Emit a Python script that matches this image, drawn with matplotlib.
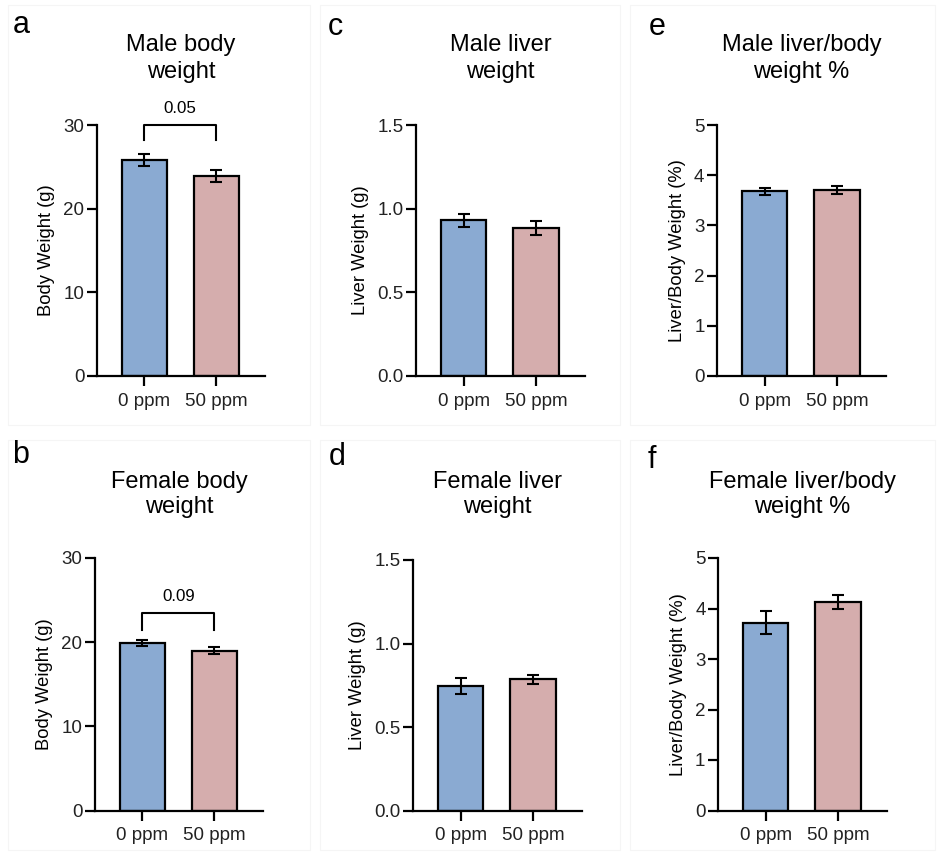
import matplotlib
matplotlib.use("Agg")
import matplotlib.pyplot as plt
from matplotlib.patches import Rectangle

plt.rcParams['font.family'] = ['Liberation Sans', 'DejaVu Sans']

groups = ["0 ppm", "50 ppm"]

male_bw = [25.8, 23.9]
male_bw_err = [0.7, 0.7]
female_bw = [19.9, 19.0]
female_bw_err = [0.3, 0.4]
male_liver = [0.93, 0.885]
male_liver_err = [0.04, 0.04]
female_liver = [0.745, 0.785]
female_liver_err = [0.048, 0.028]
male_ratio = [3.68, 3.71]
male_ratio_err = [0.07, 0.08]
female_ratio = [3.72, 4.13]
female_ratio_err = [0.23, 0.14]

titles = ["Male body\nweight", "Female body\nweight", "Male liver\nweight",
          "Female liver\nweight", "Male liver/body\nweight %", "Female liver/body\nweight %"]
ylabels = ["Body Weight (g)", "Body Weight (g)", "Liver Weight (g)", "Liver Weight (g)",
           "Liver/Body Weight (%)", "Liver/Body Weight (%)"]
letters = ["a", "b", "c", "d", "e", "f"]
yticks = [[0, 10, 20, 30], [0, 10, 20, 30], [0.0, 0.5, 1.0, 1.5], [0.0, 0.5, 1.0, 1.5],
          [0, 1, 2, 3, 4, 5], [0, 1, 2, 3, 4, 5]]
yticklabels = [["0", "10", "20", "30"], ["0", "10", "20", "30"],
               ["0.0", "0.5", "1.0", "1.5"], ["0.0", "0.5", "1.0", "1.5"],
               ["0", "1", "2", "3", "4", "5"], ["0", "1", "2", "3", "4", "5"]]
pvals = ["0.05", "0.09", None, None, None, None]
bracket_top = [30.0, 23.5, None, None, None, None]
bracket_leg = [28.2, 21.5, None, None, None, None]

values = [male_bw, female_bw, male_liver, female_liver, male_ratio, female_ratio]
errors = [male_bw_err, female_bw_err, male_liver_err, female_liver_err, male_ratio_err, female_ratio_err]

colors = ["#8aaad2", "#d5adad"]

W, H = 940, 857
fig = plt.figure(figsize=(W / 100, H / 100), dpi=100)

# pixel boxes: left, top, right, bottom
boxes = [(97, 125, 265, 376), (95, 558, 263, 810.5),
         (416, 125, 585, 376), (413, 560, 582, 810.5),
         (717, 125, 886, 376), (718, 558, 887, 810.5)]
letter_pos = [(21, 25), (21, 455), (335, 27), (337, 457), (657, 27), (652, 460)]
title_y = [(45, 72), (482, 507), (45, 72), (482, 507), (45, 72), (482, 507)]

# faint panel separators
for (x0, y0, x1, y1) in [(8, 5, 310, 425), (8, 440, 310, 850), (320, 5, 620, 425),
                         (320, 440, 620, 850), (630, 5, 935, 425), (630, 440, 935, 850)]:
    fig.patches.append(Rectangle((x0 / W, 1 - y1 / H), (x1 - x0) / W, (y1 - y0) / H,
                                 transform=fig.transFigure, fill=False,
                                 edgecolor="#f5f5f5", linewidth=0.8))

for i in range(6):
    l, t, r, b = boxes[i]
    ax = fig.add_axes([l / W, 1 - b / H, (r - l) / W, (b - t) / H])
    x = [0, 1]
    ax.bar(x, values[i], width=0.63, color=colors, edgecolor="black", linewidth=1.6, zorder=2)
    ax.errorbar(x, values[i], yerr=errors[i], fmt="none", ecolor="black",
                elinewidth=1.5, capsize=4.5, capthick=1.5, zorder=3)
    ax.set_xlim(-0.66, 1.68)
    ax.set_ylim(yticks[i][0], yticks[i][-1])
    ax.set_yticks(yticks[i])
    ax.set_yticklabels(yticklabels[i])
    ax.set_xticks(x)
    ax.set_xticklabels(groups)
    for s in ["top", "right"]:
        ax.spines[s].set_visible(False)
    for s in ["left", "bottom"]:
        ax.spines[s].set_linewidth(1.6)
    ax.tick_params(axis="both", width=1.6, length=7, labelsize=13.5, colors="black", pad=2)
    ax.tick_params(axis="x", pad=5)
    ax.set_ylabel(ylabels[i], fontsize=13.2, labelpad=6)
    for tl in ax.get_yticklabels() + ax.get_xticklabels():
        tl.set_color("#222222")
    ax.patch.set_alpha(0)

    cx = (l + r) / 2 / W
    fig.text(cx, 1 - title_y[i][0] / H, titles[i].split("\n")[0], ha="center", va="center", fontsize=17)
    fig.text(cx, 1 - title_y[i][1] / H, titles[i].split("\n")[1], ha="center", va="center", fontsize=17)
    fig.text(letter_pos[i][0] / W, 1 - letter_pos[i][1] / H, letters[i], ha="center", va="center", fontsize=22)

    if pvals[i] is not None:
        top = bracket_top[i]
        leg = bracket_leg[i]
        ax.plot([0, 0, 1, 1], [leg, top, top, leg], color="black", linewidth=1.5, clip_on=False)
        span = yticks[i][-1] - yticks[i][0]
        ax.text(0.5, top + 0.065 * span, pvals[i], ha="center", va="center", fontsize=12.2)

fig.savefig("out.png", dpi=100, facecolor="white")
